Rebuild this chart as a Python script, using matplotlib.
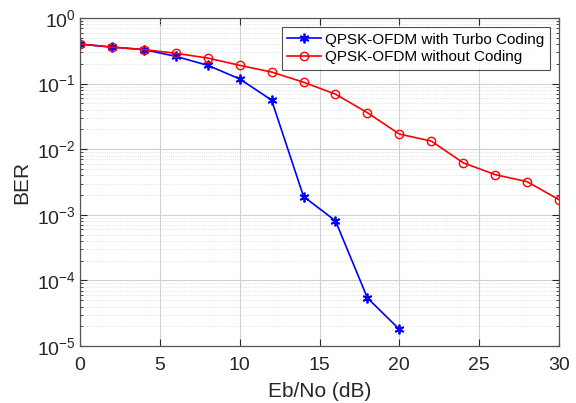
import matplotlib
matplotlib.use("Agg")
import matplotlib.pyplot as plt
from matplotlib.ticker import LogLocator, NullFormatter

plt.rcParams['font.family'] = ['Liberation Sans', 'DejaVu Sans']

ebno_turbo = [0, 2, 4, 6, 8, 10, 12, 14, 16, 18, 20]
ber_turbo = [0.40, 0.36, 0.33, 0.26, 0.19, 0.118, 0.056, 0.0019, 0.00081, 5.4e-5, 1.8e-5]
ebno_unc = [0, 2, 4, 6, 8, 10, 12, 14, 16, 18, 20, 22, 24, 26, 28, 30]
ber_unc = [0.40, 0.36, 0.33, 0.29, 0.245, 0.19, 0.15, 0.105, 0.069, 0.036, 0.017,
           0.0133, 0.0062, 0.0041, 0.0032, 0.0017]
xticks = [0, 5, 10, 15, 20, 25, 30]

fig = plt.figure(figsize=(5.76, 4.03), dpi=100)
ax = fig.add_axes([80/576, 1-346/403, (559-80)/576, (346-18)/403])

ax.semilogy(ebno_turbo, ber_turbo, '-', marker=(6, 2, 0), color='#0000ff', lw=1.2, ms=7,
            mew=1.3, label='QPSK-OFDM with Turbo Coding')
ax.semilogy(ebno_unc, ber_unc, '-o', color='#ff0000', lw=1.2, ms=6,
            mfc='none', mew=1.0, label='QPSK-OFDM without Coding')

ax.set_xlim(0, 30)
ax.set_ylim(1e-5, 1)
ax.set_xticks(xticks)
ax.yaxis.set_major_locator(LogLocator(base=10, numticks=10))
ax.yaxis.set_minor_locator(LogLocator(base=10, subs=range(2, 10), numticks=20))
ax.yaxis.set_minor_formatter(NullFormatter())

ax.grid(True, which='major', color='#d0d0d0', lw=0.8, ls='-')
ax.grid(True, which='minor', color='#d8d8d8', lw=0.6, ls=':')
ax.set_axisbelow(True)

ax.tick_params(which='both', direction='in', top=True, right=True,
               colors='#262626', labelsize=14)
ax.tick_params(which='major', length=5)
ax.tick_params(which='minor', length=2.5)
ax.tick_params(axis='x', pad=8)
ax.tick_params(axis='y', pad=3)
for sp in ax.spines.values():
    sp.set_color('#555555')
    sp.set_linewidth(0.9)

ax.set_xlabel('Eb/No (dB)', fontsize=15, color='#262626', labelpad=6)
ax.set_ylabel('BER', fontsize=15, color='#262626')

leg = ax.legend(loc='upper right', fontsize=11, frameon=True, fancybox=False,
                edgecolor='#262626', handlelength=2.2, borderpad=0.35,
                labelspacing=0.25, handletextpad=0.3, borderaxespad=0.6)
leg.get_frame().set_linewidth(0.8)

fig.savefig('out.png', dpi=100)
